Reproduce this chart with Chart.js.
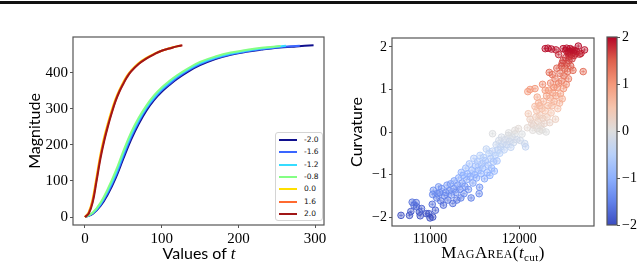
<!DOCTYPE html>
<html>
<head>
<meta charset="utf-8">
<script src="https://cdn.jsdelivr.net/npm/chart.js@4.4.1/dist/chart.umd.min.js"></script>
<style>
  body { margin: 0; width: 640px; height: 265px; background: #fff; position: relative; overflow: hidden; }
  canvas { position: absolute; top: 0; }
  #rule { position: absolute; left: 0; top: 1px; width: 637px; height: 2.5px; background: #111; }
  #legend { position: absolute; left: 275px; top: 132px; width: 46px; height: 87px; border: 1px solid #d4d4d4;
    border-radius: 3px; background: #fff; font: 7.5px "DejaVu Sans"; }
  .row { position: absolute; left: 3px; height: 12px; }
  .row i { position: absolute; left: 0; top: 5px; width: 18px; height: 2px; }
  .row span { position: absolute; left: 25px; top: 1px; color: #111; white-space: nowrap; }
  .xtitle { position: absolute; transform: translate(-50%, -50%); white-space: nowrap; color: #000; }
  #tTitle { left: 199px; top: 253px; font: 16px Lato; }
  #tTitle em { font: italic 17px "Liberation Serif"; }
  #aTitle { left: 493px; top: 253px; font: 17px "Liberation Serif"; letter-spacing: 0.4px; }
  #aTitle .sc { font-variant: small-caps; }
  #aTitle sub { font-size: 11px; vertical-align: -3px; font-style: normal; }
</style>
</head>
<body>
<div id="rule"></div>
<canvas id="lineChart" width="330" height="265" style="left:0"></canvas>
<canvas id="scatterChart" width="270" height="265" style="left:330px"></canvas>
<canvas id="cbarChart" width="44" height="265" style="left:596px"></canvas>
<div id="legend"></div>
<div class="xtitle" id="tTitle">Values of <em>t</em></div>
<div class="xtitle" id="aTitle"><span class="sc">MagArea</span>(<em>t</em><sub>cut</sub>)</div>
<script>
// left panel: magnitude curves for several curvature values
const lineLabels = ["-2.0", "-1.6", "-1.2", "-0.8", "0.0", "1.6", "2.0"];
const lineColors = ["#10108e", "#3a66ff", "#36dcff", "#84ff84", "#ffdf00", "#ff6a30", "#a01616"];

const tM20 = [0, 10, 20, 30, 40, 50, 60, 70, 80, 90, 100, 110, 120, 135, 150, 170, 190, 210, 230, 250, 275, 298];
const magM20 = [0, 9, 30, 64, 108, 162, 214, 258, 295, 324, 347, 366, 383, 404, 421, 438, 450, 458, 464, 469, 473, 476];
const tM16 = [0, 10, 20, 30, 40, 50, 60, 70, 80, 90, 100, 110, 120, 135, 150, 170, 190, 210, 230, 250, 280];
const magM16 = [0, 10, 33, 69, 114, 169, 221, 264, 300, 328, 351, 369, 386, 407, 424, 440, 451, 459, 465, 470, 475];
const tM12 = [0, 10, 20, 30, 40, 50, 60, 70, 80, 90, 100, 110, 120, 135, 150, 170, 190, 210, 230, 250, 262];
const magM12 = [0, 11, 36, 74, 120, 176, 227, 269, 304, 332, 355, 373, 390, 410, 427, 442, 453, 461, 467, 472, 475];
const tM08 = [0, 10, 20, 30, 40, 50, 60, 70, 80, 90, 100, 110, 120, 135, 150, 170, 190, 210, 230, 255];
const magM08 = [0, 12, 39, 79, 127, 183, 234, 275, 309, 337, 359, 377, 393, 413, 430, 445, 456, 463, 469, 474];
const tP00 = [0, 5, 10, 15, 20, 25, 30, 35, 40, 45, 50, 55, 60, 70, 80, 90, 100, 110, 120, 125];
const magP00 = [0, 14, 50, 110, 172, 221, 261, 297, 328, 353, 374, 392, 406, 427, 441, 452, 461, 468, 473, 475];
const tP16 = [0, 5, 10, 15, 20, 25, 30, 35, 40, 45, 50, 55, 60, 70, 80, 90, 100, 110, 120, 126];
const magP16 = [0, 12, 45, 104, 166, 215, 256, 292, 324, 350, 371, 390, 404, 425, 440, 451, 461, 467, 473, 476];
const tP20 = [0, 5, 10, 15, 20, 25, 30, 35, 40, 45, 50, 55, 60, 70, 80, 90, 100, 110, 120, 127];
const magP20 = [0, 10, 40, 98, 160, 210, 252, 289, 322, 348, 369, 388, 403, 424, 439, 451, 461, 467, 473, 476];

const tSeries = [tM20, tM16, tM12, tM08, tP00, tP16, tP20];
const magSeries = [magM20, magM16, magM12, magM08, magP00, magP16, magP20];
const tTicks = [0, 100, 200, 300];
const magTicks = [0, 100, 200, 300, 400];

// right panel: curvature against MagArea(t_cut)
const magArea = [
  10675, 10770, 10785, 10800, 10820, 10845, 10850, 10880, 10890, 10905, 10960, 10985, 11000, 11030, 11025, 11030,
  11037, 11060, 11075, 11080, 11095, 11110, 11120, 11130, 11150, 11160, 11175, 11190, 11200, 11215, 11230, 11240,
  11255, 11265, 11270, 11290, 11300, 11310, 11320, 11335, 11345, 11350, 11360, 11370, 11380, 11390, 11400, 11410,
  11420, 11430, 11440, 11450, 11460, 11470, 11480, 11490, 11500, 11510, 11520, 11530, 11540, 11550, 11555, 11560,
  11570, 11580, 11590, 11600, 11610, 11620, 11630, 11640, 11650, 11660, 11670, 11680, 11690, 11700, 11710, 11720,
  11730, 11740, 11750, 11760, 11770, 11780, 11790, 11800, 11815, 11830, 11845, 11860, 11875, 11890, 11905, 11920,
  11935, 11950, 11970, 11990, 12010, 12030, 12060, 12070, 11700, 11880, 11950,
  12090, 12100, 12120, 12140, 12150, 12160, 12175, 12185, 12195, 12200, 12210, 12215, 12225, 12230, 12240, 12250,
  12255, 12262, 12270, 12280, 12290, 12300, 12305, 12310, 12320, 12330, 12340, 12345, 12350, 12355, 12365, 12370,
  12375, 12385, 12390, 12400, 12405, 12410, 12420, 12425, 12430, 12440, 12450, 12455, 12460, 12470, 12475, 12480,
  12490, 12495, 12500, 12510, 12520, 12525, 12530, 12540, 12545, 12550, 12555, 12560, 12565, 12575, 12580, 12590,
  12600, 12605, 12615, 12625, 12640, 12660, 12675, 12690, 12715, 12730, 12290, 12320, 12360, 12410, 12490, 12520,
  12530, 12550, 12570, 12480, 12440, 12335, 12120, 12200, 12175, 12260, 12095, 12290, 12230, 12590, 12615
];
const curvature = [
  -1.96, -1.96, -1.87, -1.65, -1.72, -1.66, -1.76, -1.88, -1.97, -1.8, -1.92, -1.92, -2.02, -2.0, -1.7, -1.47,
  -1.37, -1.84, -1.55, -1.45, -1.29, -1.43, -1.62, -1.33, -1.72, -1.5, -1.42, -1.25, -1.6, -1.38, -1.22, -1.48,
  -1.68, -1.33, -1.15, -1.42, -1.6, -1.25, -1.08, -1.35, -1.55, -0.95, -1.2, -1.02, -1.45, -1.28, -0.85, -1.12,
  -0.98, -1.35, -0.75, -1.05, -1.55, -0.9, -1.2, -0.62, -1.0, -0.8, -1.08, -0.7, -0.9, -1.45, -1.3, -0.55,
  -0.98, -0.75, -0.85, -0.6, -1.1, -0.68, -0.4, -0.95, -0.78, -0.5, -1.02, -0.62, -0.85, -0.45, -0.7, -0.92,
  -0.55, -0.3, -0.68, -0.42, -0.2, -0.5, -0.35, -0.12, -0.28, -0.42, -0.18, -0.3, -0.08, -0.22, -0.36, -0.12,
  -0.25, -0.05, -0.18, 0.08, -0.2, -0.05, -0.27, -0.35, -0.04, -0.02, 0.04,
  0.1, 0.43, 0.3, 0.2, 0.04, 0.16, 0.6, 0.35, 0.5, 0.08, 0.25, 0.68, 0.02, 0.4, 0.15, 0.55,
  0.05, 0.32, 0.72, 0.2, 0.5, 0.0, 0.85, 0.35, 0.62, 0.98, 0.22, 0.8, 1.15, 0.45, 0.62, 1.35,
  0.92, 1.05, 0.72, 1.25, 0.3, 0.85, 1.5, 1.05, 0.55, 1.15, 0.68, 1.38, 0.9, 1.55, 1.2, 0.78,
  1.68, 1.02, 1.32, 1.5, 1.75, 1.12, 1.6, 1.42, 1.85, 1.25, 1.68, 1.78, 1.9, 1.55, 1.82, 1.72,
  1.45, 1.88, 1.8, 1.84, 1.9, 2.02, 1.83, 1.85, 1.42, 1.93, 1.96, 1.97, 1.95, 1.93, 1.96, 1.92,
  1.97, 1.88, 1.96, 1.62, 1.82, 1.4, 1.0, 0.82, 1.02, 1.12, 0.95, 0.98, 0.62, 1.93, 1.92
];
const areaTicks = [11000, 12000];
const curvTicks = [-2, -1, 0, 1, 2];
const cbarRange = [-2, 2];
const cbarTicks = [-2, -1, 0, 1, 2];

// coolwarm colormap stops
const coolwarm = [
  [0, [59, 76, 192]], [0.125, [98, 130, 234]], [0.25, [141, 176, 254]], [0.375, [184, 208, 249]],
  [0.5, [221, 221, 221]], [0.625, [245, 196, 173]], [0.75, [244, 152, 122]], [0.875, [222, 96, 77]],
  [1, [180, 4, 38]]
];

function cmap(v, alpha) {
  const p = Math.max(0, Math.min(1, (v + 2) / 4));
  let k = 0;
  while (k < coolwarm.length - 2 && p > coolwarm[k + 1][0]) k++;
  const [p0, c0] = coolwarm[k], [p1, c1] = coolwarm[k + 1];
  const f = (p - p0) / (p1 - p0);
  const c = c0.map((a, i) => Math.round(a + (c1[i] - a) * f));
  return `rgba(${c[0]},${c[1]},${c[2]},${alpha})`;
}

const minus = (v) => String(v).replace("-", "\u2212");
const fixedTicks = (list) => (s) => { s.ticks = list.map((v) => ({ value: v })); };

const framePlugin = {
  id: "frame",
  afterDraw(chart) {
    const { ctx, chartArea: a } = chart;
    ctx.save();
    ctx.strokeStyle = "#555";
    ctx.lineWidth = 1.2;
    ctx.strokeRect(a.left, a.top, a.right - a.left, a.bottom - a.top);
    ctx.restore();
  },
};

const grid = { drawOnChartArea: false, drawTicks: true, tickLength: 3, color: "#555" };
const tickFont = (size) => ({ color: "#000", padding: 2, autoSkip: false, maxRotation: 0,
  font: { family: "Liberation Serif", size }, callback: (v) => minus(v) });
const yTitle = (text, pad) => ({ display: true, text, color: "#000", padding: { top: pad, bottom: 0 },
  font: { family: "Lato", size: 16 } });

new Chart(document.getElementById("lineChart"), {
  type: "line",
  data: {
    datasets: lineLabels.map((lab, i) => ({
      label: lab,
      data: tSeries[i].map((t, j) => ({ x: t, y: magSeries[i][j] })),
      borderColor: lineColors[i],
      borderWidth: 2,
      pointRadius: 0,
      tension: 0.4,
      fill: false,
      order: -i,
    })),
  },
  options: {
    responsive: false,
    animation: false,
    events: [],
    layout: { padding: { top: 37, right: 6, left: 0, bottom: 0 } },
    plugins: { legend: { display: false }, tooltip: { enabled: false } },
    scales: {
      x: { type: "linear", min: -15.6, max: 311.6, afterBuildTicks: fixedTicks(tTicks),
        afterFit: (s) => { s.height = 40; }, grid, border: { display: false }, ticks: tickFont(15) },
      y: { min: -22, max: 499, afterBuildTicks: fixedTicks(magTicks),
        afterFit: (s) => { s.width = 73; }, grid, border: { display: false }, ticks: tickFont(15),
        title: yTitle("Magnitude", 25) },
    },
  },
  plugins: [framePlugin],
});

const scatterData = magArea.map((x, i) => ({ x, y: curvature[i] }));

new Chart(document.getElementById("scatterChart"), {
  type: "scatter",
  data: {
    datasets: [
      {
        data: scatterData,
        pointStyle: "cross",
        pointRadius: 2,
        borderWidth: 0.8,
        pointBorderColor: (c) => cmap(c.raw ? c.raw.y : 0, 0.7),
      },
      {
        data: scatterData,
        pointRadius: 3.3,
        borderWidth: 1,
        pointBackgroundColor: (c) => cmap(c.raw ? c.raw.y : 0, 0.35),
        pointBorderColor: (c) => cmap(c.raw ? c.raw.y : 0, 0.9),
      },
    ],
  },
  options: {
    responsive: false,
    animation: false,
    events: [],
    layout: { padding: { top: 38, right: 6, left: 0, bottom: 0 } },
    plugins: { legend: { display: false }, tooltip: { enabled: false } },
    scales: {
      x: { type: "linear", min: 10574, max: 12836, afterBuildTicks: fixedTicks(areaTicks),
        afterFit: (s) => { s.height = 39; }, grid, border: { display: false }, ticks: tickFont(14) },
      y: { min: -2.21, max: 2.21, afterBuildTicks: fixedTicks(curvTicks),
        afterFit: (s) => { s.width = 62; }, grid, border: { display: false }, ticks: tickFont(14),
        title: yTitle("Curvature", 17.4) },
    },
  },
  plugins: [framePlugin],
});

new Chart(document.getElementById("cbarChart"), {
  type: "bar",
  data: {
    labels: [""],
    datasets: [{
      data: [cbarRange],
      barPercentage: 1,
      categoryPercentage: 1,
      borderWidth: 0,
      backgroundColor: (c) => {
        const a = c.chart.chartArea;
        if (!a) return "#ddd";
        const g = c.chart.ctx.createLinearGradient(0, a.bottom, 0, a.top);
        coolwarm.forEach(([p, col]) => g.addColorStop(p, `rgb(${col.join(",")})`));
        return g;
      },
    }],
  },
  options: {
    responsive: false,
    animation: false,
    events: [],
    layout: { padding: { top: 37, right: 0, left: 11, bottom: 40 } },
    plugins: { legend: { display: false }, tooltip: { enabled: false } },
    scales: {
      x: { display: false },
      y: { position: "right", min: cbarRange[0], max: cbarRange[1], afterBuildTicks: fixedTicks(cbarTicks),
        afterFit: (s) => { s.width = 23; }, grid, border: { display: false }, ticks: tickFont(14) },
    },
  },
  plugins: [framePlugin],
});

// legend box inside the left panel
document.getElementById("legend").innerHTML = lineLabels
  .map((lab, i) => `<div class="row" style="top:${1 + i * 12.3}px"><i style="background:${lineColors[i]}"></i><span>${lab}</span></div>`)
  .join("");
</script>
</body>
</html>
